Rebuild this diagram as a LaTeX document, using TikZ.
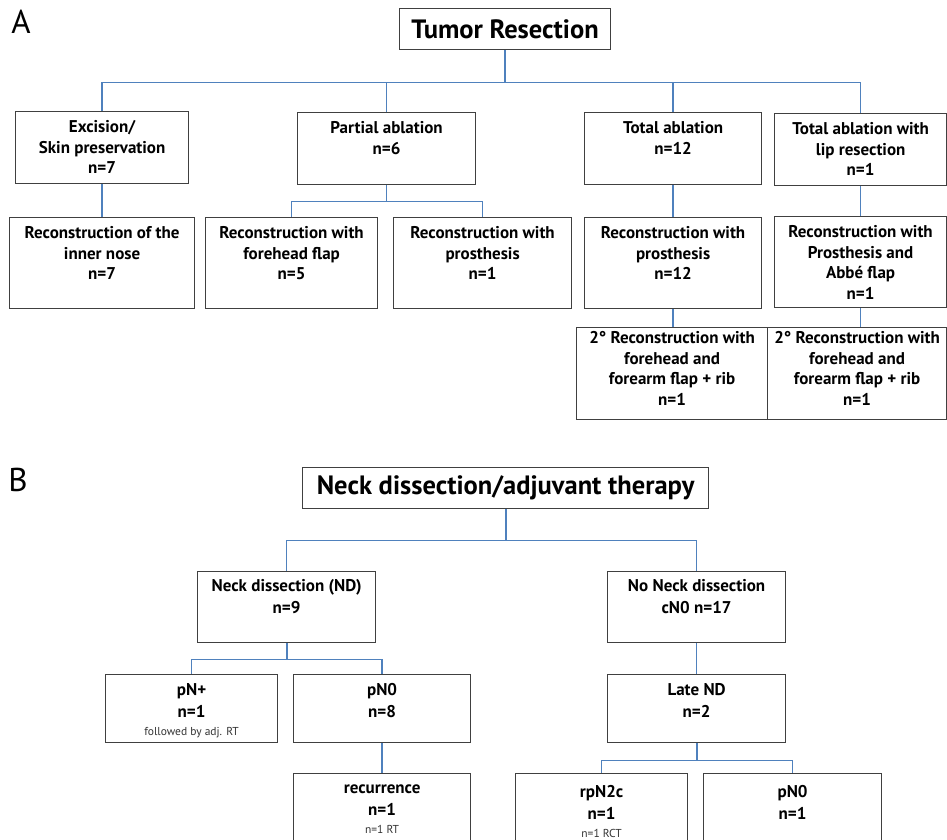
\documentclass[tikz,border=0pt]{standalone}
\usepackage{fontspec}
\setmainfont{PT Sans}
\usetikzlibrary{positioning}

\definecolor{linkblue}{RGB}{79,129,189}
\definecolor{boxgray}{RGB}{64,64,64}

\tikzset{
  cell/.style 2 args={draw=boxgray, line width=1.2pt, fill=white, inner sep=0pt,
    anchor=north west, minimum width=#1pt, minimum height=#2pt},
  celltext/.style={anchor=north, yshift=-9.6pt, inner sep=0pt, align=center,
    execute at begin node=\strut, font=\fontsize{17}{20.5}\selectfont\bfseries},
  celltextB/.style={celltext, yshift=0.6pt, font=\fontsize{17}{22}\selectfont\bfseries},
  head/.style={font=\fontsize{26.5}{26.5}\selectfont\bfseries},
  panel/.style={font=\fontsize{33}{33}\selectfont},
  link/.style={draw=linkblue, line width=1.3pt},
  trunk/.style={draw=linkblue, line width=2pt}
}
\newcommand\smallnote[1]{{\fontsize{11.5}{13}\selectfont\mdseries\color{black!80}#1}}

\begin{document}
\begin{tikzpicture}[x=1pt, y=-1pt]
    \useasboundingbox (0,0) rectangle (947,839);
    \clip (0,0) rectangle (947,839);

    % Panel A: tumor resection
    \node[panel] (labA) at (21,22) {A};
    \node[cell={211}{41}, head] (tumor) at (399,8) {Tumor Resection};

    \node[cell={173}{72}, label={[celltext]north:Excision/\\Skin preservation\\n=7}] (exc) at (15,111) {};
    \node[cell={178}{72}, label={[celltext]north:Partial ablation\\n=6}] (part) at (297,112) {};
    \node[cell={177}{72}, label={[celltext]north:Total ablation\\n=12}] (tot) at (584,112) {};
    \node[cell={172}{72}, label={[celltext]north:Total ablation with\\lip resection\\n=1}] (lip) at (774,113) {};

    \node[cell={185}{91}, label={[celltext]north:Reconstruction of the\\inner nose\\n=7}] (nose) at (9,217) {};
    \node[cell={172}{91}, label={[celltext]north:Reconstruction with\\forehead flap\\n=5}] (fhf) at (205,217) {};
    \node[cell={178}{91}, label={[celltext]north:Reconstruction with\\prosthesis\\n=1}] (pros) at (393,217) {};
    \node[cell={177}{91}, label={[celltext]north:Reconstruction with\\prosthesis\\n=12}] (prost) at (584,217) {};
    \node[cell={172}{91}, label={[celltext]north:Reconstruction with\\Prosthesis and\\Abbé flap\\n=1}] (abbe) at (774,216) {};

    \node[cell={191}{92}, label={[celltext, yshift=5pt]north:2° Reconstruction with\\forehead and\\forearm flap + rib\\n=1}] (secA) at (576,327) {};
    \node[cell={179}{92}, label={[celltext, yshift=5pt]north:2° Reconstruction with\\forehead and\\forearm flap + rib\\n=1}] (secB) at (767,327) {};

    % connectors A
    \draw[trunk] (tumor.south) -- ++(0,32) coordinate (hubA);
    \draw[link] (hubA) -| (exc.north);
    \draw[link] (hubA) -| (part.north);
    \draw[link] (hubA) -| (tot.north);
    \draw[link] (hubA) -| (lip.north);
    \draw[link] (exc.south) -- (nose.north);
    \draw[link] (part.south) -- ++(0,16) coordinate (hubP);
    \draw[link] (hubP) -| (fhf.north);
    \draw[link] (hubP) -| (pros.north);
    \draw[link] (tot.south) -- (prost.north);
    \draw[link] (lip.south) -- (abbe.north);
    \draw[link] (prost.south) -- (secA.north -| prost.south);
    \draw[link] (abbe.south) -- (secB.north -| abbe.south);

    % Panel B: neck dissection
    \node[panel] (labB) at (18,480) {B};
    \node[cell={406}{41}, head] (neck) at (302,467) {Neck dissection/adjuvant therapy};

    \node[cell={178}{71}, label={[celltextB, yshift=1pt]north:Neck dissection (ND)\\n=9}] (nd) at (197,571) {};
    \node[cell={178}{71}, label={[celltextB, yshift=1pt]north:No Neck dissection\\cN0 n=17}] (nond) at (607,571) {};

    \node[cell={172}{68}, label={[celltextB]north:pN+\\n=1\\[-4pt]\smallnote{followed by adj. RT}}] (pnp) at (105,674) {};
    \node[cell={177}{68}, label={[celltextB]north:pN0\\n=8}] (pnz) at (293,674) {};
    \node[cell={178}{68}, label={[celltextB]north:Late ND\\n=2}] (late) at (607,674) {};

    \node[cell={177}{90}, label={[celltextB, yshift=-3pt]north:recurrence\\n=1\\[-4pt]\smallnote{n=1 RT}}] (recur) at (293,773) {};
    \node[cell={172}{90}, label={[celltextB, yshift=-3pt]north:rpN2c\\n=1\\[-4pt]\smallnote{n=1 RCT}}] (rpn) at (515,773) {};
    \node[cell={178}{90}, label={[celltextB, yshift=-3pt]north:pN0\\n=1}] (pnzb) at (703,773) {};

    % connectors B
    \draw[trunk] (neck.south) -- ++(0,31) coordinate (hubB);
    \draw[link] (hubB) -| (nd.north);
    \draw[link] (hubB) -| (nond.north);
    \draw[trunk] (nd.south) -- ++(0,16) coordinate (hubN);
    \draw[link] (hubN) -| (pnp.north);
    \draw[link] (hubN) -| (pnz.north);
    \draw[link] (pnz.south) -- (recur.north);
    \draw[link] (nond.south) -- (late.north);
    \draw[trunk] (late.south) -- ++(0,17) coordinate (hubL);
    \draw[link] (hubL) -| (rpn.north);
    \draw[link] (hubL) -| (pnzb.north);
\end{tikzpicture}
\end{document}
